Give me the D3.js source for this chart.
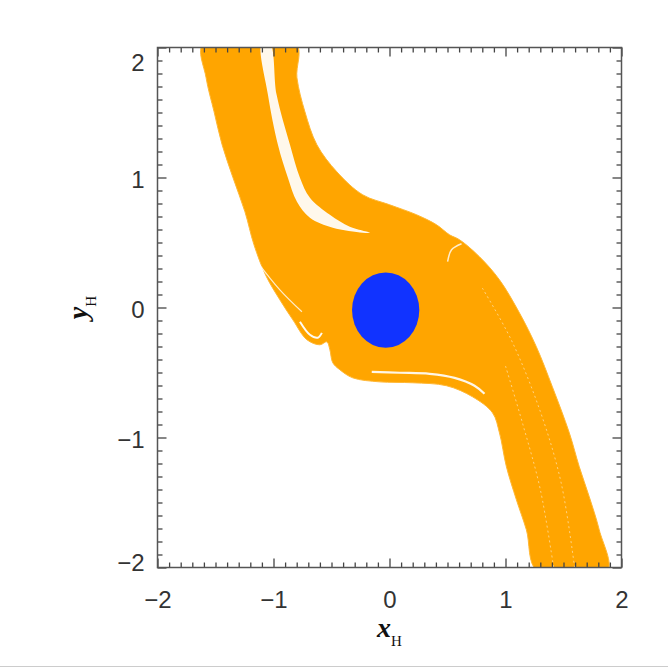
<!DOCTYPE html>
<html><head><meta charset="utf-8">
<script src="https://cdn.jsdelivr.net/npm/d3@7"></script>
<style>html,body{margin:0;padding:0;background:#fff;} svg{display:block}</style>
</head><body>
<svg id="c" width="668" height="668"></svg>
<script>
// ---- data ----
const xTicks = [-2, -1, 0, 1, 2];
const xTickLabels = ["\u22122", "\u22121", "0", "1", "2"];
const yTicks = [-2, -1, 0, 1, 2];
const yTickLabels = ["\u22122", "\u22121", "0", "1", "2"];
const minorStep = [0.1];

// outline of the orange region (x_H, y_H), left edge top->bottom then right edge bottom->top
const bandOutline = [
  [-1.607, 2.03], [-1.581, 1.767], [-1.512, 1.505], [-1.443, 1.252], [-1.349, 0.998],
  [-1.246, 0.736], [-1.168, 0.482], [-1.065, 0.244], [-0.945, 0.059], [-0.833, -0.095],
  [-0.712, -0.248], [-0.600, -0.287], [-0.540, -0.264], [-0.514, -0.325], [-0.489, -0.425],
  [-0.428, -0.479], [-0.317, -0.541], [-0.084, -0.572], [0.200, -0.579], [0.492, -0.602],
  [0.716, -0.687], [0.888, -0.810], [0.948, -0.964], [1.008, -1.225], [1.094, -1.479],
  [1.180, -1.710], [1.275, -2.03],
  [1.877, -2.03], [1.808, -1.710], [1.722, -1.456], [1.636, -1.225], [1.550, -0.964],
  [1.404, -0.610], [1.266, -0.302], [1.120, -0.041], [0.948, 0.213], [0.776, 0.390],
  [0.604, 0.521], [0.518, 0.559], [0.406, 0.636], [0.234, 0.713], [0.002, 0.790],
  [-0.231, 0.867], [-0.454, 1.044], [-0.626, 1.252], [-0.729, 1.505], [-0.798, 1.767],
  [-0.807, 2.03]
];
// white wedge in the upper branch
const gapUpper = [
  [-1.102, 2.03], [-1.048, 1.636], [-0.962, 1.252], [-0.876, 0.998], [-0.798, 0.813],
  [-0.686, 0.690], [-0.489, 0.613], [-0.231, 0.575],
  [-0.170, 0.575], [-0.342, 0.621], [-0.514, 0.713], [-0.686, 0.844], [-0.772, 0.998],
  [-0.858, 1.252], [-0.973, 1.636], [-1.031, 2.03]
];
const streakLower = [[-0.153, -0.495], [0.088, -0.502], [0.346, -0.510], [0.561, -0.541], [0.733, -0.602], [0.819, -0.664]];
const arcLeftA = [[-1.134, 0.344], [-0.945, 0.136], [-0.755, -0.033]];
const arcLeftB = [[-0.772, -0.110], [-0.686, -0.210], [-0.618, -0.232], [-0.583, -0.195]];
const arcRight = [[0.501, 0.352], [0.535, 0.444], [0.621, 0.490]];
const faintA = [[0.80, 0.15], [1.05, -0.25], [1.30, -0.80], [1.48, -1.35], [1.60, -2.03]];
const faintB = [[1.00, -0.45], [1.15, -0.90], [1.30, -1.40], [1.42, -2.03]];
const coreCenter = [-0.033, -0.02];
const coreRadius = [0.29];

// ---- drawing ----
const svg = d3.select("#c");
const xS = d3.scaleLinear().domain([-2, 2]).range([157.5, 621.5]);
const yS = d3.scaleLinear().domain([-2, 2]).range([567.5, 47.5]);
const minorTicks = d3.range(-20, 21).map(i => +(i * minorStep[0]).toFixed(1)).filter(v => !xTicks.includes(v));

svg.append("defs").append("clipPath").attr("id", "plotclip")
  .append("rect").attr("x", xS(-2)).attr("y", yS(2)).attr("width", xS(2) - xS(-2)).attr("height", yS(-2) - yS(2));

const plotG = svg.append("g").attr("clip-path", "url(#plotclip)");
const closedLine = d3.line().x(d => xS(d[0])).y(d => yS(d[1])).curve(d3.curveCatmullRomClosed.alpha(0.5));
const openLine = d3.line().x(d => xS(d[0])).y(d => yS(d[1])).curve(d3.curveCatmullRom.alpha(0.5));

plotG.append("path").attr("d", closedLine(bandOutline)).attr("fill", "#FFA500")
  .attr("stroke", "#FFB733").attr("stroke-width", 1);
plotG.append("path").attr("d", closedLine(gapUpper)).attr("fill", "#fff").attr("opacity", 0.92);
plotG.append("path").attr("d", openLine(streakLower)).attr("fill", "none").attr("stroke", "#fff").attr("stroke-width", 2.2).attr("opacity", 0.9);
plotG.append("path").attr("d", openLine(arcLeftA)).attr("fill", "none").attr("stroke", "#fff").attr("stroke-width", 1.2).attr("opacity", 0.8);
plotG.append("path").attr("d", openLine(arcLeftB)).attr("fill", "none").attr("stroke", "#fff").attr("stroke-width", 2).attr("opacity", 0.95);
plotG.append("path").attr("d", openLine(arcRight)).attr("fill", "none").attr("stroke", "#fff").attr("stroke-width", 1.5).attr("opacity", 0.8);
[faintA, faintB].forEach(s => plotG.append("path").attr("d", openLine(s)).attr("fill", "none")
  .attr("stroke", "#fff").attr("stroke-width", 1).attr("stroke-dasharray", "2,3").attr("opacity", 0.5));

plotG.append("ellipse")
  .attr("cx", xS(coreCenter[0])).attr("cy", yS(coreCenter[1]))
  .attr("rx", xS(coreRadius[0]) - xS(0)).attr("ry", yS(0) - yS(coreRadius[0]))
  .attr("fill", "#1133FF");

// axes
const fontFam = "'Liberation Sans', Arial, Helvetica, sans-serif";
function styleAxis(sel) {
  sel.select(".domain").remove();
  sel.selectAll("line").attr("stroke", "#444").attr("stroke-width", 1.3);
  sel.selectAll("text").attr("font-family", fontFam).attr("font-size", 24).attr("fill", "#333");
}
const axBottom = svg.append("g").attr("transform", `translate(0,${yS(-2)})`)
  .call(d3.axisBottom(xS).tickValues(xTicks).tickSize(-9).tickPadding(23).tickFormat((d, i) => xTickLabels[i]));
styleAxis(axBottom);
const axTop = svg.append("g").attr("transform", `translate(0,${yS(2)})`)
  .call(d3.axisTop(xS).tickValues(xTicks).tickSize(-9).tickFormat(""));
styleAxis(axTop);
const axLeft = svg.append("g").attr("transform", `translate(${xS(-2)},0)`)
  .call(d3.axisLeft(yS).tickValues(yTicks).tickSize(-9).tickPadding(13).tickFormat((d, i) => yTickLabels[i]));
styleAxis(axLeft);
axLeft.selectAll("text").attr("dy", "0.42em");
axLeft.selectAll(".tick").filter(d => d === 2).select("text").attr("dy", "0.95em");
axLeft.selectAll(".tick").filter(d => d === -2).select("text").attr("dy", "0.12em");
const axRight = svg.append("g").attr("transform", `translate(${xS(2)},0)`)
  .call(d3.axisRight(yS).tickValues(yTicks).tickSize(-9).tickFormat(""));
styleAxis(axRight);
[[d3.axisBottom(xS), `translate(0,${yS(-2)})`], [d3.axisTop(xS), `translate(0,${yS(2)})`]].forEach(([ax, tr]) => {
  const s = svg.append("g").attr("transform", tr).call(ax.tickValues(minorTicks).tickSize(-5).tickFormat(""));
  styleAxis(s);
});
[[d3.axisLeft(yS), `translate(${xS(-2)},0)`], [d3.axisRight(yS), `translate(${xS(2)},0)`]].forEach(([ax, tr]) => {
  const s = svg.append("g").attr("transform", tr).call(ax.tickValues(minorTicks).tickSize(-5).tickFormat(""));
  styleAxis(s);
});
svg.append("rect").attr("x", xS(-2)).attr("y", yS(2)).attr("width", xS(2) - xS(-2)).attr("height", yS(-2) - yS(2))
  .attr("fill", "none").attr("stroke", "#555").attr("stroke-width", 1.5);

// axis titles
const xt = svg.append("text").attr("x", xS(0)).attr("y", 637).attr("text-anchor", "middle")
  .attr("font-family", "'Liberation Serif', 'DejaVu Serif', serif").attr("fill", "#111");
xt.append("tspan").attr("font-style", "italic").attr("font-weight", "bold").attr("font-size", 28).text("x");
xt.append("tspan").attr("font-size", 15).attr("dy", 9).text("H");

const yt = svg.append("text").attr("transform", `translate(87,${yS(0)}) rotate(-90)`).attr("text-anchor", "middle")
  .attr("font-family", "'Liberation Serif', 'DejaVu Serif', serif").attr("fill", "#111");
yt.append("tspan").attr("font-style", "italic").attr("font-weight", "bold").attr("font-size", 28).text("y");
yt.append("tspan").attr("font-size", 15).attr("dy", 9).text("H");

svg.append("line").attr("x1", 0).attr("x2", 668).attr("y1", 666.5).attr("y2", 666.5).attr("stroke", "#ccc").attr("stroke-width", 1);
</script>
</body></html>
